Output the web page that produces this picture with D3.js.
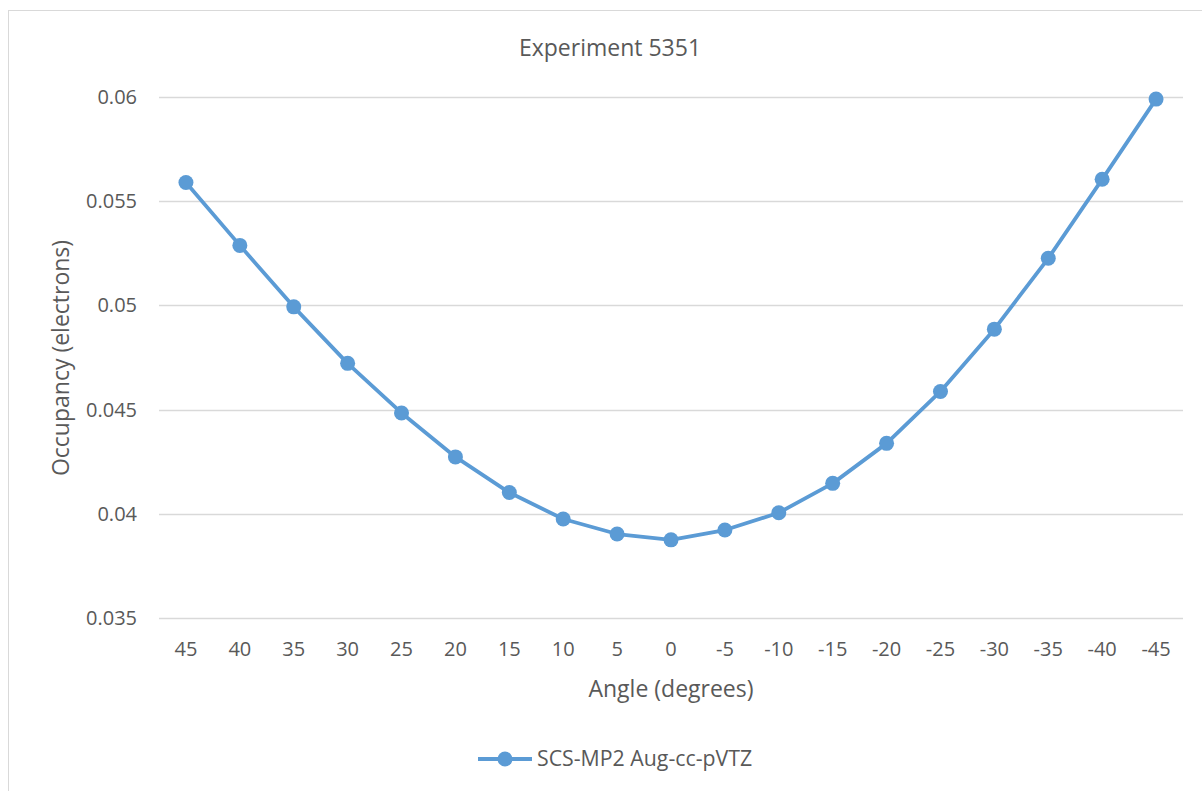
<!DOCTYPE html>
<html>
<head>
<meta charset="utf-8">
<script src="https://cdn.jsdelivr.net/npm/d3@7"></script>
<style>
  body { margin: 0; background: #fff; }
  svg text { font-family: "Open Sans", sans-serif; fill: #595959; }
</style>
</head>
<body>
<svg id="chart" width="1202" height="791"></svg>
<script>
const angles = ["45", "40", "35", "30", "25", "20", "15", "10", "5", "0",
  "-5", "-10", "-15", "-20", "-25", "-30", "-35", "-40", "-45"];
const occupancy = [0.05590, 0.05288, 0.04993, 0.04722, 0.04484, 0.04273, 0.04102, 0.03975,
  0.03903, 0.03875, 0.03922, 0.04005, 0.04146, 0.04338, 0.04587, 0.04886, 0.05226, 0.05605, 0.05990];
const yTicks = [0.035, 0.04, 0.045, 0.05, 0.055, 0.06];
const seriesName = "SCS-MP2 Aug-cc-pVTZ";

const blue = "#5B9BD5";
const svg = d3.select("#chart");

// chart frame
svg.append("rect")
  .attr("x", 8.5).attr("y", 10.5)
  .attr("width", 1300).attr("height", 900)
  .attr("fill", "none").attr("stroke", "#d9d9d9").attr("stroke-width", 1);

const plot = { left: 159, right: 1183, top: 97, bottom: 618 };

const x = d3.scalePoint().domain(angles).range([plot.left, plot.right]).padding(0.5);
const y = d3.scaleLinear().domain([0.035, 0.06]).range([plot.bottom, plot.top]);

// gridlines
svg.append("g")
  .selectAll("line")
  .data(yTicks)
  .join("line")
  .attr("x1", plot.left).attr("x2", plot.right)
  .attr("y1", (d) => Math.round(y(d)) + 0.5).attr("y2", (d) => Math.round(y(d)) + 0.5)
  .attr("stroke", "#d9d9d9").attr("stroke-width", 1.3);

// y tick labels
svg.append("g")
  .selectAll("text")
  .data(yTicks)
  .join("text")
  .attr("x", 137)
  .attr("y", (d) => y(d))
  .attr("dy", "0.35em")
  .attr("text-anchor", "end")
  .attr("font-size", 20)
  .text((d) => d3.format("")(+d.toFixed(3)));

// x tick labels
svg.append("g")
  .selectAll("text")
  .data(angles)
  .join("text")
  .attr("x", (d) => x(d))
  .attr("y", 649)
  .attr("dy", "0.35em")
  .attr("text-anchor", "middle")
  .attr("font-size", 20)
  .text((d) => d);

// title and axis titles
svg.append("text")
  .attr("x", 610).attr("y", 48).attr("dy", "0.35em")
  .attr("text-anchor", "middle").attr("font-size", 23)
  .text("Experiment 5351");

svg.append("text")
  .attr("x", 671).attr("y", 689).attr("dy", "0.35em")
  .attr("text-anchor", "middle").attr("font-size", 23)
  .text("Angle (degrees)");

svg.append("text")
  .attr("transform", "translate(61,358) rotate(-90)")
  .attr("dy", "0.35em")
  .attr("text-anchor", "middle").attr("font-size", 23)
  .text("Occupancy (electrons)");

// series
const line = d3.line()
  .x((d, i) => x(angles[i]))
  .y((d) => y(d));

svg.append("path")
  .datum(occupancy)
  .attr("d", line)
  .attr("fill", "none")
  .attr("stroke", blue)
  .attr("stroke-width", 3.8)
  .attr("stroke-linejoin", "round");

svg.append("g")
  .selectAll("circle")
  .data(occupancy)
  .join("circle")
  .attr("cx", (d, i) => x(angles[i]))
  .attr("cy", (d) => y(d))
  .attr("r", 7.5)
  .attr("fill", blue);

// legend
const legend = svg.append("g").attr("transform", "translate(478,759)");
legend.append("line")
  .attr("x1", 0).attr("x2", 54).attr("y1", 0).attr("y2", 0)
  .attr("stroke", blue).attr("stroke-width", 3.8);
legend.append("circle").attr("cx", 27).attr("cy", 0).attr("r", 7.5).attr("fill", blue);
legend.append("text")
  .attr("x", 59).attr("y", 0).attr("dy", "0.35em")
  .attr("font-size", 21.3)
  .text(seriesName);
</script>
</body>
</html>
